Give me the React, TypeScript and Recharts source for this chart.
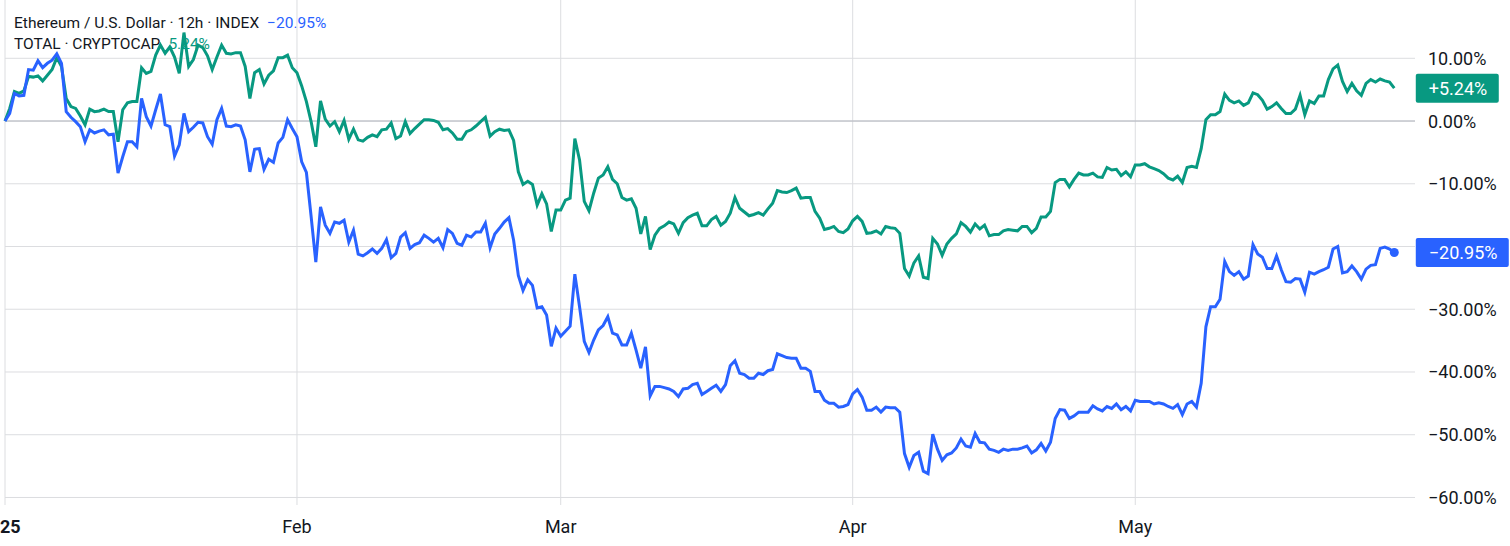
import React from 'react';
import { CartesianGrid, Line, LineChart, ReferenceLine, XAxis, YAxis } from 'recharts';

// % change since 1 Jan 2025, one value per 12h bar
const ETH_PCT = [
  0, 1.2, 4.4, 4.0, 4.1, 8.2, 8.1, 9.6, 8.5, 9.2,
  9.7, 10.7, 9.2, 1.5, 0.6, -0.1, -0.9, -3.3, -1.4, -1.9,
  -1.6, -1.4, -2.2, -2.1, -8.3, -5.7, -3.3, -3.3, -4.1, 3.6,
  0.7, -0.8, 1.8, 4.3, -0.6, -0.9, -5.6, -3.8, 1.2, -1.7,
  -1.0, -0.2, -0.3, -2.5, -3.7, 0.2, 2.0, -0.8, -0.9, -0.6,
  -0.8, -3.0, -8.1, -4.5, -4.4, -7.7, -6.1, -6.6, -3.5, -2.6,
  0.2, -1.2, -2.5, -6.5, -8.2, -15.2, -22.5, -13.7, -16.6, -17.9,
  -16.1, -16.3, -15.8, -19.3, -17.4, -21.2, -21.5, -21.0, -20.4, -21.1,
  -20.3, -18.9, -21.8, -21.1, -18.5, -17.8, -20.3, -19.7, -19.4, -18.2,
  -18.7, -19.3, -18.7, -20.2, -17.3, -17.9, -19.5, -19.8, -18.2, -18.5,
  -17.7, -17.7, -16.3, -20.2, -18.0, -17.1, -16.1, -15.4, -19.0, -24.6,
  -27.0, -25.3, -26.2, -29.8, -29.6, -30.9, -35.9, -33.0, -34.3, -33.5,
  -32.7, -24.4, -29.6, -35.1, -36.9, -34.9, -33.3, -32.6, -31.2, -33.8,
  -34.1, -35.7, -35.7, -33.8, -36.5, -39.4, -36.0, -43.8, -42.3, -42.3,
  -42.5, -42.7, -43.1, -43.9, -42.7, -42.6, -42.0, -41.8, -43.6, -43.1,
  -42.6, -42.1, -43.1, -42.0, -39.0, -38.2, -40.2, -40.4, -41.0, -41.0,
  -40.2, -40.4, -39.8, -39.6, -37.1, -37.4, -37.7, -37.8, -37.8, -39.4,
  -39.4, -39.9, -43.1, -43.1, -44.5, -45.0, -45.0, -45.6, -45.5, -45.2,
  -43.5, -42.8, -44.0, -46.1, -46.1, -45.6, -46.4, -45.6, -45.7, -45.7,
  -46.4, -53.0, -55.2, -53.3, -52.8, -55.8, -56.2, -49.9, -52.3, -54.1,
  -53.2, -52.9, -52.1, -50.7, -51.8, -52.0, -49.8, -51.2, -51.3, -52.3,
  -52.5, -52.8, -52.3, -52.5, -52.3, -52.3, -52.1, -51.8, -52.9, -52.4,
  -51.4, -52.6, -51.2, -47.4, -46.0, -46.1, -47.4, -47.0, -46.4, -46.4,
  -46.4, -45.4, -45.9, -46.2, -45.5, -45.8, -45.1, -46.0, -45.5, -46.2,
  -44.5, -44.7, -44.7, -44.7, -45.1, -44.9, -45.1, -45.5, -45.8, -45.2,
  -46.8, -45.1, -44.7, -45.6, -41.8, -32.8, -29.6, -29.6, -28.4, -22.4,
  -24.0, -24.6, -24.0, -25.2, -24.7, -19.7, -21.2, -21.7, -23.5, -23.5,
  -21.5, -23.7, -25.6, -25.7, -25.1, -25.2, -27.3, -24.1, -24.4, -24.0,
  -23.7, -23.3, -20.4, -20.0, -24.2, -24.0, -23.1, -24.0, -25.2, -23.6,
  -23.0, -22.9, -20.3, -20.1, -20.4, -20.95
];

const TOTAL_PCT = [
  0, 2.0, 4.7, 4.4, 4.8, 7.1, 7.0, 7.2, 6.4, 7.3,
  8.2, 10.1, 8.7, 3.6, 2.3, 2.0, 0.8, -0.6, 1.9, 1.5,
  1.6, 1.9, 1.5, 1.5, -3.3, 1.8, 2.9, 3.1, 3.1, 8.5,
  7.6, 7.9, 10.5, 12.1, 10.8, 11.8, 10.2, 7.6, 14.1, 8.7,
  9.8, 12.1, 11.7, 10.4, 8.2, 10.2, 12.1, 10.8, 10.7, 10.9,
  10.9, 8.7, 3.6, 7.7, 8.2, 5.9, 7.3, 8.0, 10.1, 10.1,
  10.5, 8.5, 7.7, 5.6, 3.1, -0.1, -4.1, 3.2, 0.3, -0.8,
  -0.1, -1.7, 0.1, -2.9, -1.3, -3.0, -3.2, -2.6, -2.2, -2.5,
  -1.4, -1.3, -0.3, -2.8, -2.4, -0.1, -2.0, -1.2, -0.5, 0.2,
  0.2, 0.1, -0.2, -1.4, -1.2, -1.9, -2.9, -2.9, -1.7, -1.4,
  -0.8, -0.1, 0.6, -2.4, -1.7, -1.3, -1.5, -1.4, -3.1, -8.1,
  -10.1, -9.6, -10.1, -13.4, -11.6, -13.2, -17.6, -14.2, -14.2, -12.6,
  -12.3, -2.8, -6.2, -12.8, -14.3, -11.5, -9.1, -8.6, -7.3, -9.3,
  -10.0, -12.2, -12.6, -12.4, -13.9, -18.0, -15.2, -20.5, -18.2, -17.1,
  -16.7, -16.1, -16.4, -17.9, -16.2, -15.4, -15.0, -14.7, -16.7, -16.7,
  -15.7, -15.2, -16.6, -16.0, -14.7, -12.2, -13.9, -14.5, -15.1, -14.9,
  -14.6, -15.0, -14.0, -13.1, -11.1, -11.3, -11.4, -11.1, -10.7, -12.3,
  -12.2, -12.2, -14.4, -15.5, -17.3, -17.1, -16.8, -17.6, -17.8, -17.2,
  -15.9, -15.2, -16.0, -17.9, -17.8, -17.5, -18.0, -16.8, -17.0, -17.1,
  -17.9, -23.5, -24.7, -22.6, -21.5, -24.9, -25.1, -18.7, -19.6, -21.4,
  -19.6, -18.7, -18.0, -16.2, -16.8, -17.7, -16.4, -17.2, -16.6, -18.3,
  -18.1, -18.1, -17.5, -17.3, -17.4, -17.5, -16.8, -16.8, -17.8, -17.1,
  -15.3, -15.3, -14.4, -9.8, -9.3, -9.3, -10.5, -9.3, -8.3, -8.6,
  -8.6, -8.3, -8.9, -9.0, -7.4, -7.8, -7.7, -8.7, -8.1, -8.9,
  -7.0, -7.0, -6.8, -7.3, -7.6, -7.9, -8.4, -9.1, -9.4, -8.8,
  -9.8, -7.4, -7.2, -7.4, -4.4, 0.2, 1.0, 1.0, 1.5, 4.3,
  3.3, 2.9, 3.2, 2.5, 2.9, 4.5, 4.2, 3.3, 1.9, 2.3,
  2.9, 2.0, 1.2, 1.2, 1.9, 4.1, 1.0, 3.2, 2.8, 4.0,
  4.0, 6.6, 8.3, 8.9, 6.3, 4.7, 6.0, 4.8, 4.1, 6.0,
  6.6, 6.2, 6.7, 6.4, 6.2, 5.24
];

// bar index of each month start and its label
const MONTH_BARS = [0, 62, 118, 180, 240];
const MONTH_LABELS = ['25', 'Feb', 'Mar', 'Apr', 'May'];
const PCT_TICKS = [10, 0, -10, -20, -30, -40, -50, -60];

const ETH_COLOR = '#2962ff';
const TOTAL_COLOR = '#089981';
const TEXT_COLOR = '#131722';
const GRID_COLOR = '#dcdde0';
const FONT = 'Roboto, "Noto Sans", sans-serif';

const W = 1510;
const H = 546;
const BARS_SHOWN = 299.4; // empty space right of the last bar, like the original
const Y_DOMAIN = [-61.2, 19.29];

const data = ETH_PCT.map((v, i) => ({ bar: i, eth: v, total: TOTAL_PCT[i] }));
const LAST = data.length - 1;

const fmtPct = (v: number, plus = false) => {
    const s = Math.abs(v).toFixed(2) + '%';
    if (v < 0) return '\u2212' + s;
    return (plus && v > 0 ? '+' : '') + s;
};

const PctTick = (props: any) => {
    const { x, y, payload } = props;
    // -20% is hidden behind the ETH badge in the original
    if (payload.value === -20) return <g />;
    return (
        <text x={x} y={y + 6.5} fill={TEXT_COLOR} fontSize={18} fontFamily={FONT} textAnchor="start">
            {fmtPct(payload.value)}
        </text>
    );
};

const MonthTick = (props: any) => {
    const { x, y, payload } = props;
    const i = MONTH_BARS.indexOf(payload.value);
    const isYear = i === 0;
    return (
        <text
            x={isYear ? x - 5 : x}
            y={y + 28}
            fill={TEXT_COLOR}
            fontSize={18}
            fontFamily={FONT}
            fontWeight={isYear ? 700 : 400}
            textAnchor={isYear ? 'start' : 'middle'}
        >
            {MONTH_LABELS[i]}
        </text>
    );
};

// last-value tag on the price scale
const badge = (color: string, width: number) => (props: any) => {
    const { x, y, index, value } = props;
    if (index !== LAST) return <g />;
    return (
        <g>
            <rect x={x + 21.5} y={y - 14.5} width={width} height={29} rx={2} fill={color} />
            <text x={x + 34.5} y={y + 6.5} fill="#ffffff" fontSize={18} fontFamily={FONT}>
                {fmtPct(value, true)}
            </text>
        </g>
    );
};

const endDot = (props: any) => {
    const { cx, cy, index } = props;
    if (index !== LAST) return <g key={index} />;
    return <circle key={index} cx={cx} cy={cy} r={4.5} fill={ETH_COLOR} />;
};

export default function App() {
    return (
        <div style={{ position: 'relative', width: W, height: H, background: '#fff' }}>
            <style>{'body{margin:0}'}</style>
            {/* legend sits under the lines, as in the original */}
            <svg width={W} height={H} style={{ position: 'absolute', left: 0, top: 0 }}>
                <text x={14} y={28} fontSize={15.5} fontFamily={FONT} fill={TEXT_COLOR}>
                    Ethereum / U.S. Dollar · 12h · INDEX
                    <tspan dx={8} fill={ETH_COLOR}>{fmtPct(ETH_PCT[LAST])}</tspan>
                </text>
                <text x={14} y={49} fontSize={15.5} fontFamily={FONT} fill={TEXT_COLOR}>
                    TOTAL · CRYPTOCAP
                    <tspan dx={8} fill={TOTAL_COLOR}>{fmtPct(TOTAL_PCT[LAST])}</tspan>
                </text>
            </svg>
            <div style={{ position: 'absolute', left: 0, top: 0 }}>
                <LineChart width={W} height={H} data={data} margin={{ top: 0, right: 0, bottom: 0, left: 5 }}>
                    <CartesianGrid stroke={GRID_COLOR} syncWithTicks />
                    <XAxis
                        dataKey="bar"
                        type="number"
                        domain={[0, BARS_SHOWN]}
                        ticks={MONTH_BARS}
                        height={41}
                        axisLine={false}
                        tickLine={false}
                        tickSize={0}
                        tickMargin={0}
                        tick={<MonthTick />}
                        interval={0}
                    />
                    <YAxis
                        orientation="right"
                        type="number"
                        domain={Y_DOMAIN}
                        ticks={PCT_TICKS}
                        width={95}
                        axisLine={false}
                        tickLine={false}
                        tickSize={0}
                        tickMargin={13}
                        tick={<PctTick />}
                        interval={0}
                    />
                    <ReferenceLine y={0} stroke="#b2b5be" />
                    <Line
                        dataKey="total"
                        stroke={TOTAL_COLOR}
                        strokeWidth={3}
                        dot={false}
                        activeDot={false}
                        isAnimationActive={false}
                        label={badge(TOTAL_COLOR, 83)}
                    />
                    <Line
                        dataKey="eth"
                        stroke={ETH_COLOR}
                        strokeWidth={3}
                        dot={endDot}
                        activeDot={false}
                        isAnimationActive={false}
                        label={badge(ETH_COLOR, 93)}
                    />
                </LineChart>
            </div>
        </div>
    );
}
